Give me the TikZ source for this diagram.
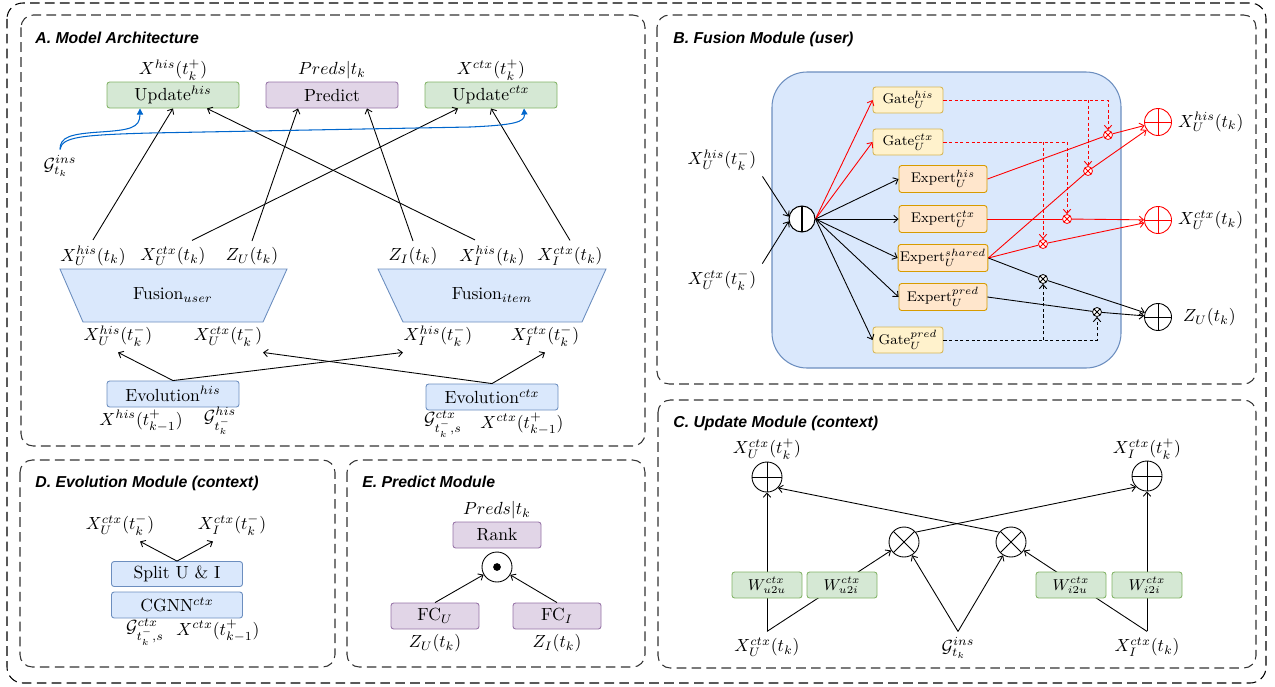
\documentclass[tikz,border=0pt]{standalone}
\usepackage{fontspec}
\newfontfamily\headfont{Liberation Sans}
\usetikzlibrary{arrows.meta,positioning}
\definecolor{boxblue}{HTML}{DAE8FC}
\definecolor{edgeblue}{HTML}{6C8EBF}
\definecolor{boxgreen}{HTML}{D5E8D4}
\definecolor{edgegreen}{HTML}{82B366}
\definecolor{boxpurple}{HTML}{E1D5E7}
\definecolor{edgepurple}{HTML}{9673A6}
\definecolor{boxyellow}{HTML}{FFF2CC}
\definecolor{edgeyellow}{HTML}{D6B656}
\definecolor{boxorange}{HTML}{FFE6CC}
\definecolor{edgeorange}{HTML}{D79B00}
\definecolor{insblue}{HTML}{0066CC}

\begin{document}
\begin{tikzpicture}[
  x=0.2mm, y=-0.2mm,
  >={Straight Barb[length=2.4pt,width=4.2pt]},
  panel/.style={draw=black!80, line width=0.6pt, dash pattern=on 5.5pt off 3pt, rounded corners=7pt},
  title/.style={font=\headfont\fontsize{9}{11}\selectfont\bfseries\itshape, anchor=base west, inner sep=0pt},
  block/.style={draw, line width=0.5pt, rounded corners=1.5pt,
    minimum width=2.64cm, minimum height=0.52cm, inner sep=1pt},
  evo/.style={block, fill=boxblue, draw=edgeblue},
  upd/.style={block, fill=boxgreen, draw=edgegreen},
  prd/.style={block, fill=boxpurple, draw=edgepurple},
  gatebox/.style={block, fill=boxyellow, draw=edgeyellow, minimum width=1.4cm, font=\footnotesize},
  expbox/.style={block, fill=boxorange, draw=edgeorange, minimum width=1.76cm,
    minimum height=0.54cm, font=\footnotesize},
  wbox/.style={upd, minimum width=1.4cm, font=\small},
  rankbox/.style={prd, minimum width=1.76cm},
  fusion/.style={fill=boxblue, draw=edgeblue, line width=0.5pt},
  fusebg/.style={fill=boxblue, draw=edgeblue, line width=0.6pt, rounded corners=20pt,
    minimum width=6.98cm, minimum height=5.92cm},
  link/.style={->, line width=0.5pt},
  redlink/.style={link, draw=red},
  redgate/.style={->, line width=0.5pt, draw=red, dash pattern=on 1.8pt off 1.4pt},
  blackgate/.style={redgate, draw=black},
  inslink/.style={-{Triangle[length=3.5pt,width=3.5pt]}, line width=0.6pt, draw=insblue},
  addop/.style={circle, draw=#1, fill=white, line width=0.5pt, inner sep=0pt, minimum size=0.54cm,
    path picture={\draw[#1, line width=0.5pt]
      (path picture bounding box.north) -- (path picture bounding box.south)
      (path picture bounding box.west) -- (path picture bounding box.east);}},
  addop/.default=black,
  mulop/.style={circle, draw=#1, fill=white, line width=0.5pt, inner sep=0pt, minimum size=0.6cm,
    path picture={\draw[#1, line width=0.5pt]
      (path picture bounding box.north west) -- (path picture bounding box.south east)
      (path picture bounding box.south west) -- (path picture bounding box.north east);}},
  mulop/.default=black,
  gatemul/.style={mulop=#1, minimum size=0.18cm, line width=0.45pt},
  catop/.style={circle, draw, fill=white, line width=0.6pt, inner sep=0pt, minimum size=0.52cm,
    path picture={\draw[line width=0.6pt] (path picture bounding box.north) -- (path picture bounding box.south);}},
  dotop/.style={circle, draw, fill=white, line width=0.5pt, inner sep=0pt, minimum size=0.6cm,
    path picture={\fill[black] (path picture bounding box.center) circle (2.2pt);}}
]
\useasboundingbox (0,0) rectangle (1275,686);
\draw[panel, draw=black, rounded corners=9pt] (7,3) rectangle (1266,683);

% A. Model Architecture
\draw[panel] (21,15) rectangle (645,446);
\node[title] (ttla) at (35,43) {A. Model Architecture};
\node[upd] (updh) at (173,95) {Update$^{his}$};
\node[prd] (pred) at (332,95) {Predict};
\node[upd] (updc) at (491,95) {Update$^{ctx}$};
\node (updhout) at (173,70) {$X^{his}(t_k^+)$};
\node (predout) at (332,70) {$Preds|t_k$};
\node (updcout) at (491,70) {$X^{ctx}(t_k^+)$};
\node (gins) at (60,166) {$\mathcal{G}^{ins}_{t_k}$};

\draw[fusion] (60,269) -- (287,269) -- (263,322) -- (83,322) -- cycle;
\draw[fusion] (378,269) -- (606,269) -- (582,322) -- (403,322) -- cycle;
\node (fuseu) at (173,295) {Fusion$_{user}$};
\node (fusei) at (492,295) {Fusion$_{item}$};

\node (xuh) at (93,256) {$X_U^{his}(t_k)$};
\node (xuc) at (173,256) {$X_U^{ctx}(t_k)$};
\node (zu) at (252,256) {$Z_U(t_k)$};
\node (zi) at (413,256) {$Z_I(t_k)$};
\node (xih) at (492,256) {$X_I^{his}(t_k)$};
\node (xic) at (570,256) {$X_I^{ctx}(t_k)$};
\node (xuhm) at (118,336) {$X_U^{his}(t_k^-)$};
\node (xucm) at (228,336) {$X_U^{ctx}(t_k^-)$};
\node (xihm) at (438,336) {$X_I^{his}(t_k^-)$};
\node (xicm) at (545,336) {$X_I^{ctx}(t_k^-)$};

\node[evo] (evh) at (173,394) {Evolution$^{his}$};
\node[evo] (evc) at (492,397) {Evolution$^{ctx}$};
\node (evhin) at (141,421) {$X^{his}(t_{k-1}^+)$};
\node (evhg) at (220,421) {$\mathcal{G}^{his}_{t_k^-}$};
\node (evcg) at (443,424) {$\mathcal{G}^{ctx}_{t_k^-,s}$};
\node (evcin) at (522,424) {$X^{ctx}(t_{k-1}^+)$};

\draw[link] (xuh.north) -- (updh.south);
\draw[link] ([xshift=3.8mm]xuc.north) -- ([xshift=-6.6mm]updc.south);
\draw[link] (zu.north) -- ([xshift=-6.8mm]pred.south);
\draw[link] (zi.north) -- ([xshift=7mm]pred.south);
\draw[link] ([xshift=-3.4mm]xih.north) -- ([xshift=6.8mm]updh.south);
\draw[link] (xic.north) -- (updc.south);
\draw[link] (evh.north) -- (xuhm.south);
\draw[link] (evh.north) -- ([xshift=-7mm]xihm.south);
\draw[link] (evc.north) -- ([xshift=7mm]xucm.south);
\draw[link] (evc.north) -- (xicm.south);
\draw[inslink] (gins.north) .. controls (60,137) and (70,134) .. (100,132)
  .. controls (130,130) and (140,128) .. ([xshift=-6.6mm]updh.south);
\draw[inslink] (gins.north) .. controls (62,137) and (80,135) .. (150,133) -- (470,127)
  .. controls (515,125) and (525,122) .. ([xshift=6.6mm]updc.south);

% B. Fusion Module (user)
\draw[panel] (657,15) rectangle (1256,384);
\node[title] (ttlb) at (673,43) {B. Fusion Module (user)};
\node[fusebg] (fbox) at (946.5,220) {};
\node[catop] (cat) at (802,219) {};
\node (xinh) at (722,160) {$X_U^{his}(t_k^-)$};
\node (xinc) at (722,280) {$X_U^{ctx}(t_k^-)$};
\node[gatebox] (gh) at (908,100) {Gate$_U^{his}$};
\node[gatebox] (gc) at (908,142) {Gate$_U^{ctx}$};
\node[expbox] (eh) at (943,179) {Expert$_U^{his}$};
\node[expbox] (ec) at (943,219) {Expert$_U^{ctx}$};
\node[expbox] (es) at (943,258) {Expert$_U^{shared}$};
\node[expbox] (ep) at (943,297) {Expert$_U^{pred}$};
\node[gatebox] (gp) at (908,340) {Gate$_U^{pred}$};
\node[gatemul=red] (m1) at (1108,135) {};
\node[gatemul=red] (m2) at (1088,171) {};
\node[gatemul=red] (m3) at (1067,219) {};
\node[gatemul=red] (m4) at (1043,244) {};
\node[gatemul] (m5) at (1043,279) {};
\node[gatemul] (m6) at (1097,312) {};
\node[addop=red] (ph) at (1158,122) {};
\node[addop=red] (pc) at (1158,220) {};
\node[addop] (pz) at (1158,317) {};
\node[right=0pt of ph] (outh) {$X_U^{his}(t_k)$};
\node[right=0pt of pc] (outc) {$X_U^{ctx}(t_k)$};
\node[right=1mm of pz] (outz) {$Z_U(t_k)$};

\draw[link] (xinh.south east) -- (cat.170);
\draw[link] (xinc.north east) -- (cat.190);
\draw[redlink] (cat.east) -- (gh.west);
\draw[redlink] (cat.east) -- (gc.west);
\foreach \e in {eh,ec,es,ep,gp}
  \draw[link] (cat.east) -- (\e.west);
\draw[redgate] (gh.east) -| (m1);
\draw[redgate] (m2 |- gh.east) -- (m2);
\draw[redgate] (gc.east) -| (m3);
\draw[redgate] (m4 |- gc.east) -- (m4);
\draw[blackgate] (gp.east) -| (m6);
\draw[blackgate] (m5 |- gp.east) -- (m5);
\draw[red, line width=0.5pt] (eh.east) -- (m1);
\draw[redlink] (m1) -- (ph);
\draw[red, line width=0.5pt] (es.east) -- (m2);
\draw[redlink] (m2) -- (ph);
\draw[red, line width=0.5pt] (ec.east) -- (m3);
\draw[redlink] (m3) -- (pc);
\draw[red, line width=0.5pt] (es.east) -- (m4);
\draw[redlink] (m4) -- (pc);
\draw[line width=0.5pt] (es.east) -- (m5);
\draw[link] (m5) -- (pz);
\draw[line width=0.5pt] (ep.east) -- (m6);
\draw[link] (m6) -- (pz);

% C. Update Module (context)
\draw[panel] (658,400) rectangle (1256,668);
\node[title] (ttlc) at (673,427) {C. Update Module (context)};
\node[addop, minimum size=0.6cm] (sumu) at (767,477) {};
\node[addop, minimum size=0.6cm] (sumi) at (1147,476) {};
\node[mulop] (mulu) at (904,542) {};
\node[mulop] (muli) at (1011,542) {};
\node (sumuout) at (767,449) {$X_U^{ctx}(t_k^+)$};
\node (sumiout) at (1147,449) {$X_I^{ctx}(t_k^+)$};
\node (xucu) at (767,647) {$X_U^{ctx}(t_k)$};
\node (ginsc) at (958,648) {$\mathcal{G}^{ins}_{t_k}$};
\node (xicu) at (1147,647) {$X_I^{ctx}(t_k)$};
\draw[link] (xucu.north) -- (sumu.south);
\draw[link] (xucu.north) -- (mulu);
\draw[link] (ginsc.north) -- (mulu);
\draw[link] (ginsc.north) -- (muli);
\draw[link] (xicu.north) -- (muli);
\draw[link] (xicu.north) -- (sumi.south);
\draw[link] (mulu.40) -- (sumi.225);
\draw[link] (muli.140) -- (sumu.315);
\node[wbox] (wuu) at (767,585) {$W^{ctx}_{u2u}$};
\node[wbox] (wui) at (842,585) {$W^{ctx}_{u2i}$};
\node[wbox] (wiu) at (1071,585) {$W^{ctx}_{i2u}$};
\node[wbox] (wii) at (1147,585) {$W^{ctx}_{i2i}$};

% D. Evolution Module (context)
\draw[panel] (20,460) rectangle (335,667);
\node[title] (ttld) at (35,487) {D. Evolution Module (context)};
\node[evo, minimum width=2.62cm, minimum height=0.5cm] (split) at (177,574) {Split U \& I};
\node[evo, minimum width=2.62cm] (cgnn) at (177,605) {CGNN$^{ctx}$};
\node (xdu) at (120,525) {$X_U^{ctx}(t_k^-)$};
\node (xdi) at (232,525) {$X_I^{ctx}(t_k^-)$};
\node (gd) at (145,632) {$\mathcal{G}^{ctx}_{t_k^-,s}$};
\node (xd) at (218,631) {$X^{ctx}(t_{k-1}^+)$};
\draw[link] (split.north) -- ([xshift=4mm]xdu.south);
\draw[link] (split.north) -- ([xshift=-3.8mm]xdi.south);

% E. Predict Module
\draw[panel] (347,460) rectangle (645,667);
\node[title] (ttle) at (362,487) {E. Predict Module};
\node (predlbl) at (497,510) {$Preds|t_k$};
\node[rankbox] (rank) at (497,535) {Rank};
\node[dotop] (dot) at (497,567) {};
\node[rankbox] (fcu) at (435,616) {FC$_U$};
\node[rankbox] (fci) at (557,616) {FC$_I$};
\node (zue) at (435,643) {$Z_U(t_k)$};
\node (zie) at (557,643) {$Z_I(t_k)$};
\draw[link] (fcu.north) -- (dot);
\draw[link] (fci.north) -- (dot);
\end{tikzpicture}
\end{document}
